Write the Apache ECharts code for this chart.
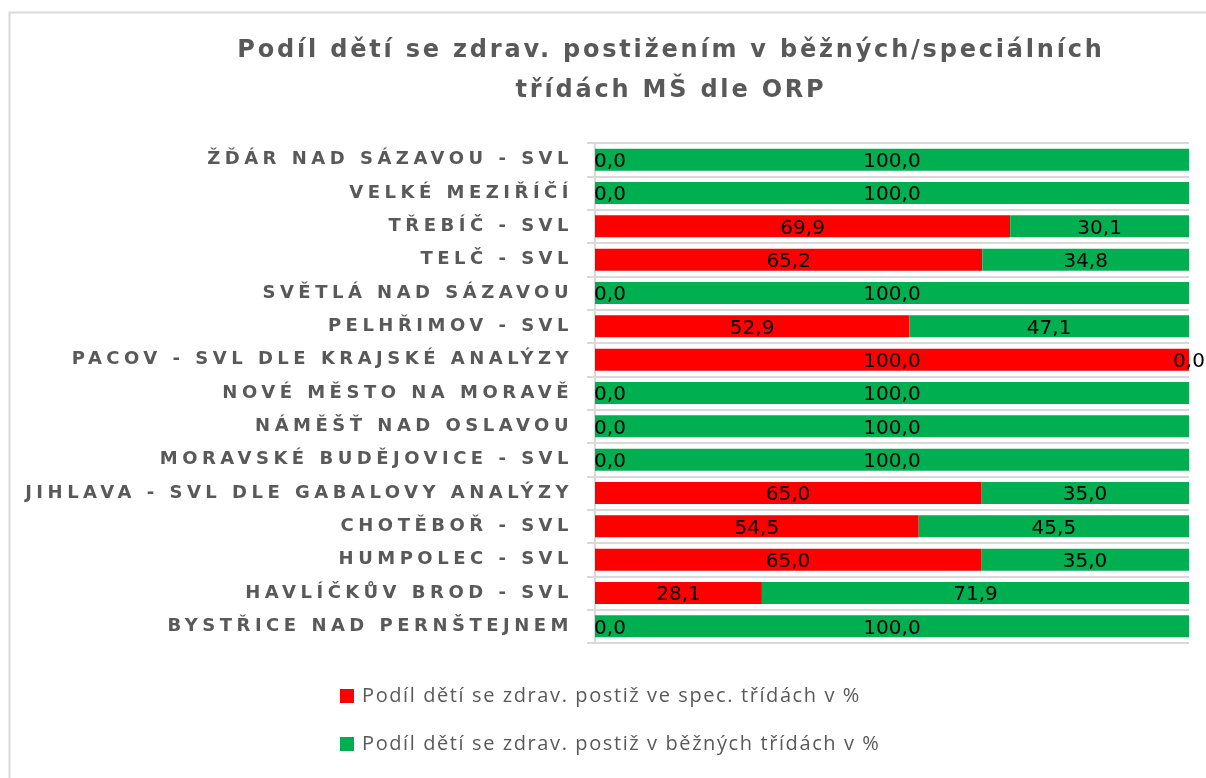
<!DOCTYPE html>
<html>
<head>
<meta charset="utf-8">
<script src="https://cdn.jsdelivr.net/npm/echarts@6/dist/echarts.min.js"></script>
<style>
html,body{margin:0;padding:0;background:#fff;}
#c{width:1206px;height:778px;}
</style>
</head>
<body>
<div id="c"></div>
<script>
// ---- data (bottom-to-top, as in the source sheet) ----
const categories = [
  'BYSTŘICE NAD PERNŠTEJNEM',
  'HAVLÍČKŮV BROD - SVL',
  'HUMPOLEC - SVL',
  'CHOTĚBOŘ - SVL',
  'JIHLAVA - SVL DLE GABALOVY ANALÝZY',
  'MORAVSKÉ BUDĚJOVICE - SVL',
  'NÁMĚŠŤ NAD OSLAVOU',
  'NOVÉ MĚSTO NA MORAVĚ',
  'PACOV - SVL DLE KRAJSKÉ ANALÝZY',
  'PELHŘIMOV - SVL',
  'SVĚTLÁ NAD SÁZAVOU',
  'TELČ - SVL',
  'TŘEBÍČ - SVL',
  'VELKÉ MEZIŘÍČÍ',
  'ŽĎÁR NAD SÁZAVOU - SVL'
];
const specValues   = [0, 28.1, 65.0, 54.5, 65.0, 0, 0, 0, 100.0, 52.9, 0, 65.2, 69.9, 0, 0];
const beznyValues  = [100.0, 71.9, 35.0, 45.5, 35.0, 100.0, 100.0, 100.0, 0, 47.1, 100.0, 34.8, 30.1, 100.0, 100.0];
const seriesNames = [
  'Podíl dětí se zdrav. postiž ve spec. třídách v %',
  'Podíl dětí se zdrav. postiž v běžných třídách v %'
];
const titleLines = ['Podíl dětí se zdrav. postižením v běžných/speciálních', 'třídách MŠ dle ORP'];

// letter spacing for title / axis / legend texts, as in the original
(function(){
  const proto = CanvasRenderingContext2D.prototype;
  const orig = proto.fillText;
  proto.fillText = function(t, x, y, m){
    if (!('letterSpacing' in this)) {
      return m === undefined ? orig.call(this, t, x, y) : orig.call(this, t, x, y, m);
    }
    const f = this.font || '';
    let sp = '0px';
    if (/bold/.test(f)) {
      const mm = f.match(/(\d+(?:\.\d+)?)px/);
      const size = mm ? parseFloat(mm[1]) : 12;
      sp = size >= 22 ? '2.8px' : '4.5px';
    } else if (/Open Sans/.test(f)) {
      sp = '1.6px';
    }
    this.letterSpacing = sp;
    this.font = f;
    const r = m === undefined ? orig.call(this, t, x, y) : orig.call(this, t, x, y, m);
    this.letterSpacing = '0px';
    this.font = f;
    return r;
  };
})();

const fmt = v => v.toFixed(1).replace('.', ',');
const specData = specValues.map(v => v === 0 ? {value: v, label: {offset: [15, 2]}} : {value: v});

const chart = echarts.init(document.getElementById('c'), null, {renderer: 'canvas'});
chart.setOption({
  animation: false,
  backgroundColor: '#fff',
  graphic: [{
    type: 'rect', left: 7, top: 10, silent: true,
    shape: {width: 1220, height: 800},
    style: {fill: 'none', stroke: '#D9D9D9', lineWidth: 2}
  }],
  title: {
    text: titleLines.join('\n'),
    left: 666, top: 26, textAlign: 'center',
    textStyle: {fontFamily: 'DejaVu Sans', fontWeight: 'bold', fontSize: 24, color: '#595959', lineHeight: 40}
  },
  legend: {
    orient: 'vertical', left: 340, top: 686, padding: 0,
    itemWidth: 14, itemHeight: 14, itemGap: 28,
    icon: 'rect',
    textStyle: {fontFamily: 'Open Sans', fontSize: 20, color: '#595959', padding: [0, 0, 0, 3]},
    data: seriesNames
  },
  grid: {left: 595, right: 17, top: 143, bottom: 135, containLabel: false},
  xAxis: {
    type: 'value', min: 0, max: 100,
    axisLabel: {show: false}, axisLine: {show: false}, axisTick: {show: false}, splitLine: {show: false}
  },
  yAxis: {
    type: 'category', data: categories,
    axisLine: {show: true, lineStyle: {color: '#D9D9D9', width: 2}},
    axisTick: {show: true, length: 8, lineStyle: {color: '#D9D9D9', width: 2}},
    splitLine: {show: true, lineStyle: {color: '#D9D9D9', width: 2}},
    axisLabel: {margin: 22, fontFamily: 'DejaVu Sans', fontWeight: 'bold', fontSize: 18, color: '#595959'}
  },
  series: [
    {
      name: seriesNames[0], type: 'bar', stack: 'total', barWidth: '66%',
      itemStyle: {color: '#FF0000'},
      label: {show: true, position: 'inside', offset: [0, 2], formatter: p => fmt(p.value), color: '#000', fontFamily: 'DejaVu Sans', fontSize: 20},
      data: specData
    },
    {
      name: seriesNames[1], type: 'bar', stack: 'total', barWidth: '66%',
      itemStyle: {color: '#00B050'},
      label: {show: true, position: 'inside', offset: [0, 2], formatter: p => fmt(p.value), color: '#000', fontFamily: 'DejaVu Sans', fontSize: 20},
      data: beznyValues
    }
  ]
});
</script>
</body>
</html>
